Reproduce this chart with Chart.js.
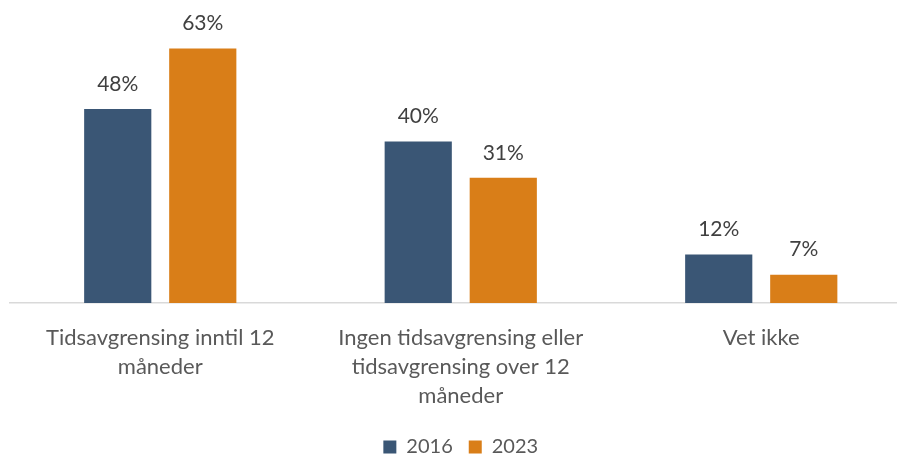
<!DOCTYPE html>
<html>
<head>
<meta charset="utf-8">
<script src="https://cdn.jsdelivr.net/npm/chart.js@4.4.0/dist/chart.umd.min.js"></script>
<style>
  html, body { margin: 0; padding: 0; background: #ffffff; overflow: hidden; }
  #wrap { position: relative; width: 926px; height: 467px; }
</style>
</head>
<body>
<div id="wrap"><canvas id="c"></canvas></div>
<script>
const categories = [
  ["Tidsavgrensing inntil 12", "måneder"],
  ["Ingen tidsavgrensing eller", "tidsavgrensing over 12", "måneder"],
  ["Vet ikke"]
];
const seriesNames = ["2016", "2023"];
const values2016 = [48, 40, 12];
const values2023 = [63, 31, 7];

const FONT = "Lato, 'Open Sans', sans-serif";

const valueLabels = {
  id: 'valueLabels',
  afterDatasetsDraw(chart) {
    const ctx = chart.ctx;
    ctx.save();
    ctx.font = "21px " + FONT;
    ctx.fillStyle = "#404040";
    ctx.textAlign = "center";
    ctx.textBaseline = "middle";
    chart.data.datasets.forEach((ds, i) => {
      const meta = chart.getDatasetMeta(i);
      meta.data.forEach((bar, j) => {
        ctx.fillText(ds.data[j] + "%", bar.x, bar.y - 25);
      });
    });
    ctx.restore();
  }
};

new Chart(document.getElementById('c'), {
  type: 'bar',
  data: {
    labels: categories,
    datasets: [
      { label: seriesNames[0], data: values2016, backgroundColor: '#3A5675',
        barPercentage: 0.79, categoryPercentage: 0.566 },
      { label: seriesNames[1], data: values2023, backgroundColor: '#D97E18',
        barPercentage: 0.79, categoryPercentage: 0.566 }
    ]
  },
  options: {
    responsive: true,
    maintainAspectRatio: false,
    animation: false,
    layout: { padding: { left: 10, right: 14.5, top: 0, bottom: 0 } },
    scales: {
      x: {
        grid: { display: false },
        border: { display: true, color: '#D9D9D9', width: 1.5 },
        ticks: {
          color: '#595959',
          font: { family: FONT, size: 22, lineHeight: 1.32 },
          padding: 12,
          maxRotation: 0,
          autoSkip: false
        },
        afterFit(scale) { scale.height = 118; }
      },
      y: {
        display: false,
        min: 0,
        max: 75
      }
    },
    plugins: {
      legend: {
        position: 'bottom',
        labels: {
          color: '#595959',
          font: { family: FONT, size: 20 },
          boxWidth: 13,
          boxHeight: 13,
          padding: 16
        }
      },
      tooltip: { enabled: false }
    }
  },
  plugins: [valueLabels]
});
</script>
</body>
</html>
